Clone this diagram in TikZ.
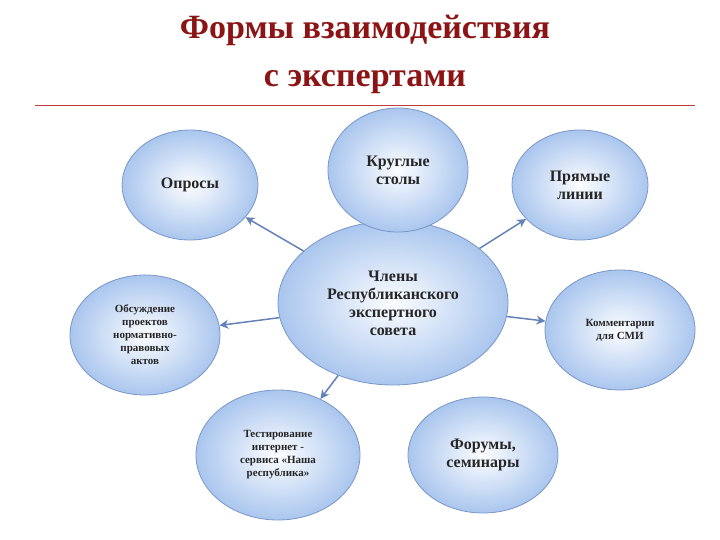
\documentclass[tikz,border=0pt]{standalone}
\usepackage{fontspec}
\setmainfont{Liberation Serif}
\usetikzlibrary{shapes.geometric,arrows.meta}
\definecolor{ttl}{RGB}{140,20,20}
\definecolor{rule}{RGB}{190,60,60}
\definecolor{edge}{RGB}{120,150,200}
\definecolor{fillin}{RGB}{252,253,255}
\definecolor{fillout}{RGB}{170,198,238}
\definecolor{arr}{RGB}{100,130,185}
\tikzset{
 bub/.style={ellipse,draw=edge,line width=0.8pt,inner color=fillin,outer color=fillout,align=center,font=\bfseries,text=black!85,inner sep=0pt},
 con/.style={draw=arr,line width=1.5pt,-{Stealth[length=9pt,width=9pt]}}
}
\begin{document}
\begin{tikzpicture}[x=1pt,y=-1pt]
\useasboundingbox (0,0) rectangle (720,540);
\node[font=\bfseries\fontsize{34}{48}\selectfont,text=ttl,align=center] (t) at (365,54) {Формы взаимодействия\\с экспертами};
\coordinate (la) at (35,105); \coordinate (lb) at (695,105);
\draw[rule,line width=0.8pt] (la) -- (lb);
\node[bub,minimum width=230,minimum height=164,font=\bfseries\fontsize{16}{18}\selectfont] (c) at (393,303) {Члены\\Республиканского\\экспертного\\совета};
\node[bub,minimum width=136,minimum height=110,font=\bfseries\fontsize{16}{18}\selectfont] (a1) at (190,185) {Опросы};
\node[bub,minimum width=140,minimum height=124,font=\bfseries\fontsize{16}{18}\selectfont] (a2) at (398,170) {Круглые\\столы};
\node[bub,minimum width=136,minimum height=110,font=\bfseries\fontsize{16}{18}\selectfont] (a3) at (580,185) {Прямые\\линии};
\node[bub,minimum width=150,minimum height=120,font=\bfseries\fontsize{11}{13}\selectfont] (a4) at (145,335) {Обсуждение\\проектов\\нормативно-\\правовых\\актов};
\node[bub,minimum width=150,minimum height=120,font=\bfseries\fontsize{11}{13}\selectfont] (a5) at (620,330) {Комментарии\\для СМИ};
\node[bub,minimum width=164,minimum height=130,font=\bfseries\fontsize{11}{13}\selectfont] (a6) at (278,455) {Тестирование\\интернет -\\сервиса «Наша\\республика»};
\node[bub,minimum width=150,minimum height=116,font=\bfseries\fontsize{16}{18}\selectfont] (a7) at (483,455) {Форумы,\\семинары};
\draw[con] (c) -- (a1);
\draw[con] (c) -- (a3);
\draw[con] (c) -- (a4);
\draw[con] (c) -- (a5);
\draw[con] (c) -- (a6);
\end{tikzpicture}
\end{document}
